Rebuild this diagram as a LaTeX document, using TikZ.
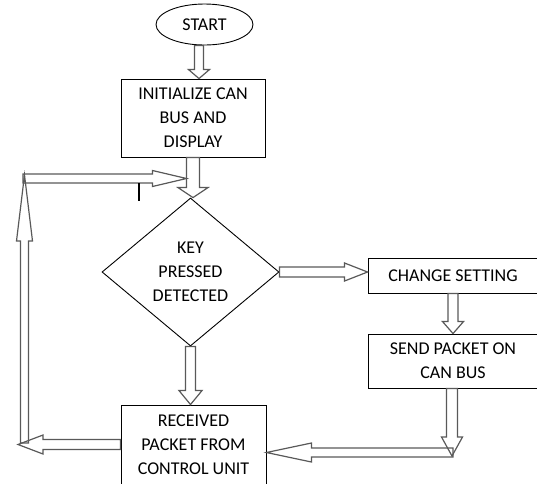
\documentclass[tikz,border=0pt]{standalone}
\usepackage{fontspec}
\setmainfont{Carlito}
\usetikzlibrary{calc,shapes.geometric}

% hollow block arrow: start, end, shaft half width, head half width, head length
\newcommand{\blockarrow}[5]{%
  \coordinate (ba-s) at #1;
  \coordinate (ba-e) at #2;
  \coordinate (ba-h) at ($(ba-e)!#5!(ba-s)$);
  \draw [blockarrow] ($(ba-s)!#3!90:(ba-e)$) -- ($(ba-h)!#3!90:(ba-e)$)
    -- ($(ba-h)!#4!90:(ba-e)$) -- (ba-e) -- ($(ba-h)!#4!-90:(ba-e)$)
    -- ($(ba-h)!#3!-90:(ba-e)$) -- ($(ba-s)!#3!-90:(ba-e)$) -- cycle;%
}

\tikzset{
  stepbox/.style={draw, line width=0.9pt, align=center, inner sep=0pt},
  startnode/.style={draw, ellipse, line width=0.9pt, inner sep=0pt,
    minimum width=97pt, minimum height=41pt},
  decision/.style={draw, diamond, line width=0.9pt, align=center, inner sep=0pt,
    aspect=1.2, minimum width=177pt, minimum height=148pt},
  blockarrow/.style={draw=black!65, line width=1.2pt, line join=miter}
}

\begin{document}
\begin{tikzpicture}[x=1pt, y=-1pt, font=\fontsize{18}{24}\selectfont]
  \useasboundingbox (0,0) rectangle (537,483);
  \clip (0,0) rectangle (537,483);

  % Nodes of the flow
  \node [startnode] (start) at (204.5,24.5) {START};
  \node [stepbox, minimum width=144pt, minimum height=78pt] (init) at (193,118)
    {INITIALIZE CAN\\BUS AND\\DISPLAY};
  \node [decision] (key) at (190.5,272) {KEY\\PRESSED\\DETECTED};
  \node [stepbox, minimum width=170pt, minimum height=35pt] (change) at (453,275.5)
    {CHANGE SETTING};
  \node [stepbox, minimum width=170pt, minimum height=54pt] (send) at (453,361)
    {SEND PACKET ON\\CAN BUS};
  \node [stepbox, minimum width=145pt, minimum height=79pt] (recv) at (193.5,444.5)
    {RECEIVED\\PACKET FROM\\CONTROL UNIT};

  % Helper points of the loop and the bends
  \coordinate (startout) at ([xshift=-5.5pt]start.south);
  \coordinate (inleft) at ([xshift=-6.5pt]init.south);
  \coordinate (turndown) at (452,456);
  \coordinate (turnleft) at (453,452.5);
  \coordinate (loopleft) at (18,444.5);
  \coordinate (loopbottom) at (24.5,443);
  \coordinate (looptop) at (24.5,175);
  \coordinate (loopcorner) at (23,178.5);

  % Drawing arrow START -> INITIALIZE
  \blockarrow{(startout)}{(startout |- init.north)}{4.5pt}{10.5pt}{9pt}

  % Drawing arrow INITIALIZE -> KEY
  \blockarrow{(init.south)}{(init.south |- key.north)}{6.5pt}{15pt}{10pt}

  % Drawing arrow KEY -> RECEIVED
  \blockarrow{(key.south)}{(key.south |- recv.north)}{5pt}{11.5pt}{14pt}

  % Drawing arrow KEY -> CHANGE SETTING
  \blockarrow{(key.east)}{(key.east -| change.west)}{5pt}{9pt}{23pt}

  % Drawing arrow CHANGE SETTING -> SEND PACKET
  \blockarrow{(change.south)}{(change.south |- send.north)}{5pt}{10.5pt}{12pt}

  % Drawing arrow SEND PACKET -> RECEIVED
  \blockarrow{(send.south -| turndown)}{(turndown)}{5.5pt}{10.5pt}{19pt}
  \blockarrow{(turnleft)}{(turnleft -| recv.east)}{4.5pt}{9.5pt}{45pt}

  % Drawing loop RECEIVED -> KEY
  \blockarrow{(recv.west)}{(recv.west -| loopleft)}{5pt}{9.5pt}{25pt}
  \blockarrow{(loopbottom)}{(looptop)}{4pt}{8pt}{66pt}
  \blockarrow{(loopcorner)}{(loopcorner -| inleft)}{4.5pt}{8pt}{34pt}

  % Stray bar under the loop
  \draw [line width=2pt] (139,183) -- (139,201);
\end{tikzpicture}
\end{document}
